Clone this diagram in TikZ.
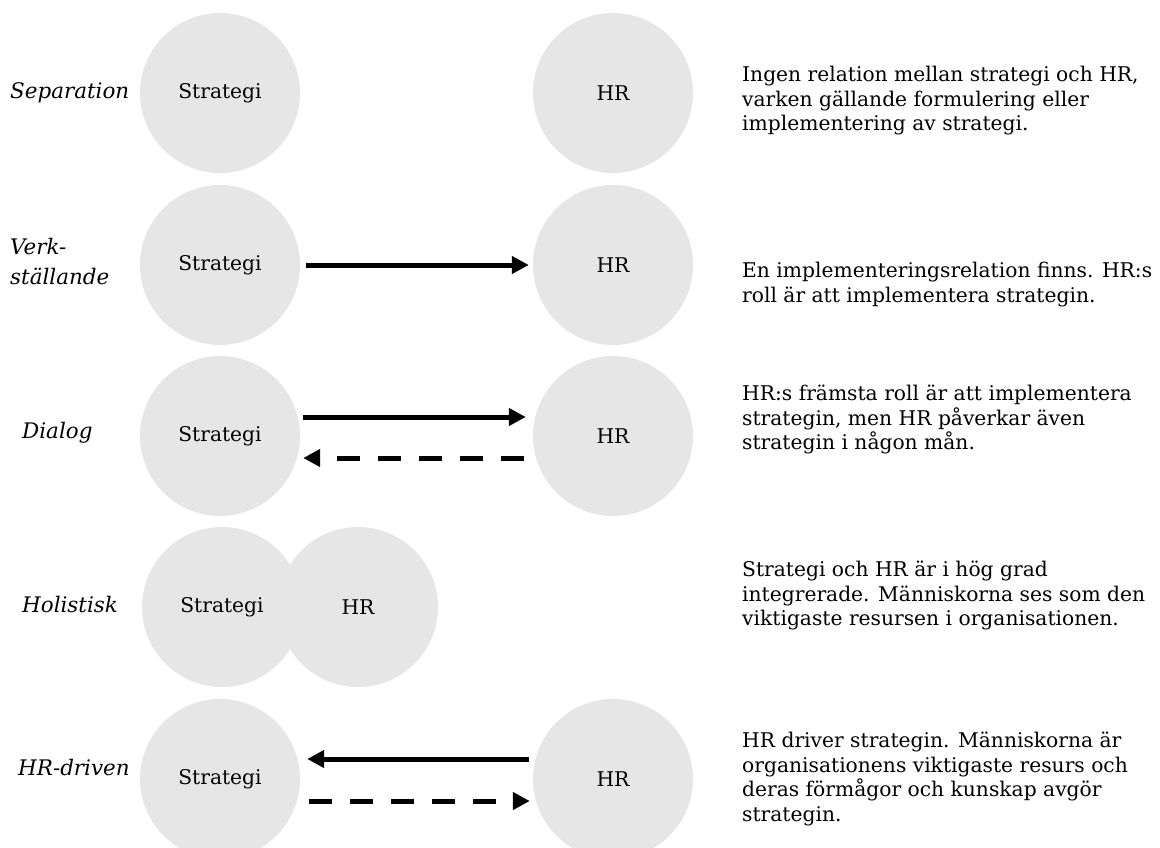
\documentclass[tikz,border=0pt]{standalone}
\usepackage{fontspec}
\setmainfont{DejaVu Serif}
\usetikzlibrary{arrows.meta}
\definecolor{blobgray}{HTML}{E6E6E6}
\newlength\reflen
\newlength\refleni
\AtBeginDocument{%
  \settowidth\reflen{\fontsize{10}{12}\selectfont En implementeringsrelation finns. HR:s}%
  \pgfmathsetmacro\fs{4100/\reflen}%
  \settowidth\refleni{\fontsize{10}{12}\selectfont\itshape Separation}%
  \pgfmathsetmacro\fsi{1190/\refleni}%
}
\begin{document}
\begin{tikzpicture}[x=1pt,y=-1pt,
  blob/.style={circle, fill=blobgray, minimum size=160pt, inner sep=0pt, font=\fontsize{\fs}{24.5}\selectfont},
  side/.style={anchor=west, inner sep=0pt, align=left, font=\fontsize{\fsi}{30}\selectfont\itshape},
  desc/.style={anchor=north west, inner sep=0pt, align=left, font=\fontsize{\fs}{24.5}\selectfont},
  solidarr/.style={line width=5pt, -{Triangle[length=17pt,width=17pt]}},
  dasharr/.style={line width=5pt, dash pattern=on 23pt off 18pt, -{Triangle[length=17pt,width=17pt]}}
]
\useasboundingbox (0,0) rectangle (1160,847);

% Row 1: Separation
\node[side] (l1) at (10,93) {Separation};
\node[blob] (s1) at (220,93) {Strategi};
\node[blob] (h1) at (613,93) {HR};
\node[desc] (d1) at (742,66) {Ingen relation mellan strategi och HR,\\varken gällande formulering eller\\implementering av strategi.};

% Row 2: Verkställande
\node[side] (l2) at (10,262) {Verk-\\ställande};
\node[blob] (s2) at (220,265) {Strategi};
\node[blob] (h2) at (613,265) {HR};
\draw[solidarr] ([xshift=6pt]s2.east) -- ([xshift=-4pt]h2.west);
\node[desc] (d2) at (742,262) {En implementeringsrelation finns. HR:s\\roll är att implementera strategin.};

% Row 3: Dialog
\node[side] (l3) at (22,433) {Dialog};
\node[blob] (s3) at (220,436) {Strategi};
\node[blob] (h3) at (613,436) {HR};
\draw[solidarr] ([xshift=3pt,yshift=19pt]s3.east) -- ([xshift=-7pt,yshift=19pt]h3.west);
\draw[dasharr] ([xshift=-9pt,yshift=-22pt]h3.west) -- ([xshift=3pt,yshift=-22pt]s3.east);
\node[desc] (d3) at (742,385) {HR:s främsta roll är att implementera\\strategin, men HR påverkar även\\strategin i någon mån.};

% Row 4: Holistisk
\node[side] (l4) at (22,605) {Holistisk};
\node[blob] (s4) at (222,607) {Strategi};
\node[blob] (h4) at (358,607) {HR};
\node[desc] (d4) at (742,561) {Strategi och HR är i hög grad\\integrerade. Människorna ses som den\\viktigaste resursen i organisationen.};

% Row 5: HR-driven
\node[side] (l5) at (18,768) {HR-driven};
\node[blob] (s5) at (220,779) {Strategi};
\node[blob] (h5) at (613,779) {HR};
\draw[solidarr] ([xshift=-4pt,yshift=20pt]h5.west) -- ([xshift=7pt,yshift=20pt]s5.east);
\draw[dasharr] ([xshift=9pt,yshift=-22pt]s5.east) -- ([xshift=-3pt,yshift=-22pt]h5.west);
\node[desc] (d5) at (742,732) {HR driver strategin. Människorna är\\organisationens viktigaste resurs och\\deras förmågor och kunskap avgör\\strategin.};
\end{tikzpicture}
\end{document}
